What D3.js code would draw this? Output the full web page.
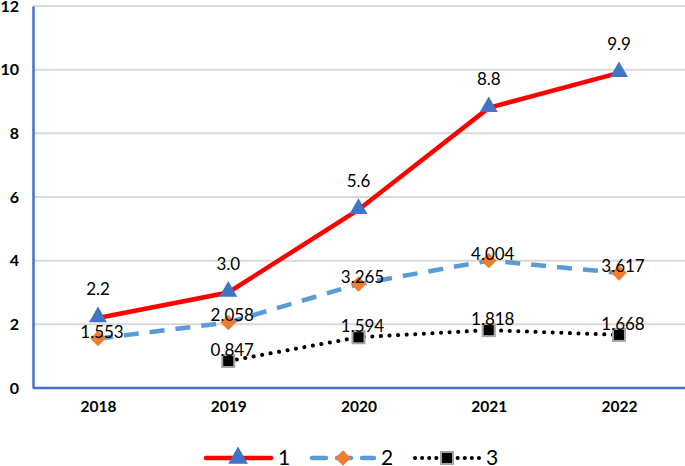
<!DOCTYPE html>
<html><head><meta charset="utf-8">
<script src="https://cdn.jsdelivr.net/npm/d3@7"></script>
<style>body{margin:0;background:#fff}svg{display:block}</style>
</head><body>
<script>
const years = ["2018","2019","2020","2021","2022"];
const series1 = [2.2, 3.0, 5.6, 8.8, 9.9];
const series2 = [1.553, 2.058, 3.265, 4.004, 3.617];
const series3 = [null, 0.847, 1.594, 1.818, 1.668];
const labels1 = ["2.2","3.0","5.6","8.8","9.9"];
const labels2 = ["1.553","2.058","3.265","4.004","3.617"];
const labels3 = [null,"0.847","1.594","1.818","1.668"];
const yTicks = [0,2,4,6,8,10,12];
const legendNames = ["1","2","3"];

const W=685,H=466;
const svg=d3.select("body").append("svg").attr("width",W).attr("height",H);
const font="Lato, 'Open Sans', sans-serif";
const x=d3.scalePoint().domain(years).range([98,619]);
const y=d3.scaleLinear().domain([0,12]).range([388,6]);

// gridlines
svg.append("g").selectAll("line").data(yTicks.filter(d=>d>0)).join("line")
  .attr("x1",33).attr("x2",685).attr("y1",d=>y(d)).attr("y2",d=>y(d))
  .attr("stroke","#d9d9d9").attr("stroke-width",2);

// axes
const yAxis=d3.axisLeft(y).tickValues(yTicks).tickSize(0).tickPadding(14);
const gy=svg.append("g").attr("transform","translate(33,0)").call(yAxis);
gy.select(".domain").attr("stroke","#4472c4").attr("stroke-width",2.5);
gy.selectAll("text").attr("font-family",font).attr("font-size",16).attr("font-weight","bold").attr("fill","#000");

const xAxis=d3.axisBottom(x).tickSize(0).tickPadding(13);
const gx=svg.append("g").attr("transform","translate(0,388)").call(xAxis);
gx.select(".domain").attr("d","M33,0H685").attr("stroke","#4472c4").attr("stroke-width",2.5);
gx.selectAll("text").attr("font-family",font).attr("font-size",15.5).attr("font-weight","bold").attr("fill","#000");

const line=d3.line().defined(d=>d[1]!=null).x(d=>x(d[0])).y(d=>y(d[1]));
const pts=arr=>years.map((yr,i)=>[yr,arr[i]]);

svg.append("path").attr("d",line(pts(series1))).attr("fill","none").attr("stroke","#ff0000").attr("stroke-width",4.5);
svg.append("path").attr("d",line(pts(series2))).attr("fill","none").attr("stroke","#5b9bd5").attr("stroke-width",4.5).attr("stroke-dasharray","15,11");
svg.append("path").attr("d",line(pts(series3).filter(d=>d[1]!=null))).attr("fill","none").attr("stroke","#000").attr("stroke-width",4).attr("stroke-dasharray","0.1,8.5").attr("stroke-linecap","round");

const tri=d3.symbol().type(d3.symbolTriangle).size(140);

function markers1(g,cx,cy){g.append("path").attr("d",tri()).attr("transform",`translate(${cx},${cy-1})`).attr("fill","#4472c4");}
function markers2(g,cx,cy){g.append("rect").attr("x",-5.5).attr("y",-5.5).attr("width",11).attr("height",11).attr("transform",`translate(${cx},${cy}) rotate(45)`).attr("fill","#ed7d31");}
function markers3(g,cx,cy){g.append("rect").attr("x",cx-6).attr("y",cy-6).attr("width",12).attr("height",12).attr("fill","#000").attr("stroke","#a5a5a5").attr("stroke-width",2);}

const mg=svg.append("g");
years.forEach((yr,i)=>{
  markers1(mg,x(yr),y(series1[i]));
  markers2(mg,x(yr),y(series2[i]));
  if(series3[i]!=null) markers3(mg,x(yr),y(series3[i]));
});

const lg=svg.append("g").attr("font-family",font).attr("font-size",17).attr("fill","#000").attr("text-anchor","middle");
years.forEach((yr,i)=>{
  lg.append("text").attr("x",x(yr)).attr("y",y(series1[i])-23).text(labels1[i]);
  lg.append("text").attr("x",x(yr)+4).attr("y",y(series2[i])-1).text(labels2[i]);
  if(series3[i]!=null) lg.append("text").attr("x",x(yr)+4).attr("y",y(series3[i])-5).text(labels3[i]);
});

// legend
const leg=svg.append("g").attr("font-family",font).attr("font-size",21).attr("fill","#000");
const ly=458;
leg.append("line").attr("x1",206).attr("x2",271).attr("y1",ly).attr("y2",ly).attr("stroke","#ff0000").attr("stroke-width",4.5).attr("stroke-linecap","round");
leg.append("path").attr("d",d3.symbol().type(d3.symbolTriangle).size(170)()).attr("transform",`translate(238,${ly})`).attr("fill","#4472c4");
leg.append("text").attr("x",278).attr("y",ly+7).text(legendNames[0]);
leg.append("line").attr("x1",312).attr("x2",374).attr("y1",ly).attr("y2",ly).attr("stroke","#5b9bd5").attr("stroke-width",4.5).attr("stroke-dasharray","14,11").attr("stroke-linecap","round");
markers2(leg,343,ly);
leg.append("text").attr("x",381).attr("y",ly+7).text(legendNames[1]);
leg.append("line").attr("x1",415).attr("x2",480).attr("y1",ly).attr("y2",ly).attr("stroke","#000").attr("stroke-width",4).attr("stroke-dasharray","0.1,7").attr("stroke-linecap","round");
markers3(leg,447,ly);
leg.append("text").attr("x",486).attr("y",ly+7).text(legendNames[2]);
</script>
</body></html>
